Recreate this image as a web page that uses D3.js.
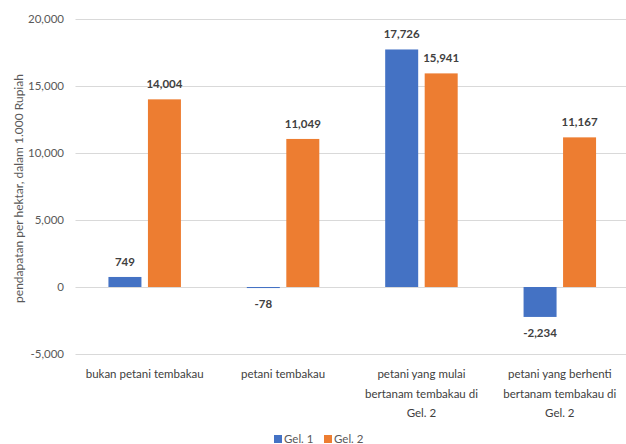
<!DOCTYPE html>
<html>
<head>
<meta charset="utf-8">
<script src="https://cdn.jsdelivr.net/npm/d3@7"></script>
<style>
  html, body { margin: 0; padding: 0; background: #fff; }
  svg { display: block; font-family: Lato, "Open Sans", sans-serif; }
</style>
</head>
<body>
<svg id="chart" width="626" height="444"></svg>
<script>
// Categories and series
const categories = [
  ["bukan petani tembakau"],
  ["petani tembakau"],
  ["petani yang mulai", "bertanam tembakau di", "Gel. 2"],
  ["petani yang berhenti", "bertanam tembakau di", "Gel. 2"]
];
const seriesNames = ["Gel. 1", "Gel. 2"];
const gel1 = [749, -78, 17726, -2234];
const gel2 = [14004, 11049, 15941, 11167];
const yTicks = [-5000, 0, 5000, 10000, 15000, 20000];
const colors = ["#4472C4", "#ED7D31"];

const svg = d3.select("#chart");
const plot = { left: 75.5, right: 629, top: 19, bottom: 354 };

const x = d3.scaleBand()
  .domain(d3.range(categories.length))
  .range([plot.left, plot.right])
  .paddingInner(0).paddingOuter(0);

const y = d3.scaleLinear()
  .domain([-5000, 20000])
  .range([plot.bottom, plot.top]);

const barW = 33, barGap = 6.5;
const groupW = barW * 2 + barGap;
const xs = d3.scaleOrdinal().domain([0, 1])
  .range([ -groupW / 2, -groupW / 2 + barW + barGap ]);

// number format with a plain hyphen for negatives
const locale = d3.formatLocale({ decimal: ".", thousands: ",", grouping: [3], currency: ["", ""], minus: "-" });
const fmt = locale.format(",");

// gridlines
svg.append("g").selectAll("line").data(yTicks).join("line")
  .attr("x1", plot.left).attr("x2", 626)
  .attr("y1", d => Math.round(y(d)) + 0.5).attr("y2", d => Math.round(y(d)) + 0.5)
  .attr("stroke", "#d9d9d9").attr("stroke-width", 1);

// y axis tick labels
svg.append("g").selectAll("text").data(yTicks).join("text")
  .attr("x", 64).attr("y", d => y(d))
  .attr("dy", "0.35em").attr("text-anchor", "end")
  .attr("font-size", 11.5).attr("fill", "#595959")
  .text(d => fmt(d));

// y axis title
svg.append("text")
  .attr("transform", `translate(19, ${(plot.top + plot.bottom) / 2 + 2}) rotate(-90)`)
  .attr("text-anchor", "middle").attr("dy", "0.35em")
  .attr("font-size", 12).attr("fill", "#595959")
  .text("pendapatan per hektar, dalam 1.000 Rupiah");

// bars + labels
const series = [gel1, gel2];
const bars = [];
series.forEach((vals, s) => {
  vals.forEach((v, i) => bars.push({ s, i, v }));
});

const cx = d => x(d.i) + x.bandwidth() / 2 + xs(d.s);

svg.append("g").selectAll("rect").data(bars).join("rect")
  .attr("x", cx)
  .attr("y", d => Math.min(y(d.v), y(0)))
  .attr("width", barW)
  .attr("height", d => Math.abs(y(d.v) - y(0)))
  .attr("fill", d => colors[d.s]);

svg.append("g").selectAll("text").data(bars).join("text")
  .attr("x", d => cx(d) + barW / 2)
  .attr("y", d => d.v >= 0 ? y(d.v) - 15 : y(d.v) + 16)
  .attr("dy", "0.35em").attr("text-anchor", "middle")
  .attr("font-size", 11.5).attr("font-weight", "bold").attr("fill", "#404040")
  .text(d => fmt(d.v));

// category labels
const cat = svg.append("g").selectAll("text").data(categories).join("text")
  .attr("text-anchor", "middle").attr("font-size", 11.5).attr("fill", "#404040")
  .attr("transform", (d, i) => `translate(${x(i) + x.bandwidth() / 2}, 378)`);
cat.selectAll("tspan").data(d => d).join("tspan")
  .attr("x", 0).attr("y", (d, j) => j * 19.5)
  .text(d => d);

// legend
const legend = svg.append("g").attr("transform", "translate(274, 435)");
const items = legend.selectAll("g").data(seriesNames).join("g")
  .attr("transform", (d, i) => `translate(${i * 50}, 0)`);
items.append("rect").attr("width", 8).attr("height", 8).attr("fill", (d, i) => colors[i]);
items.append("text").attr("x", 10).attr("y", 4).attr("dy", "0.35em")
  .attr("font-size", 11.5).attr("fill", "#595959").text(d => d);
</script>
</body>
</html>
